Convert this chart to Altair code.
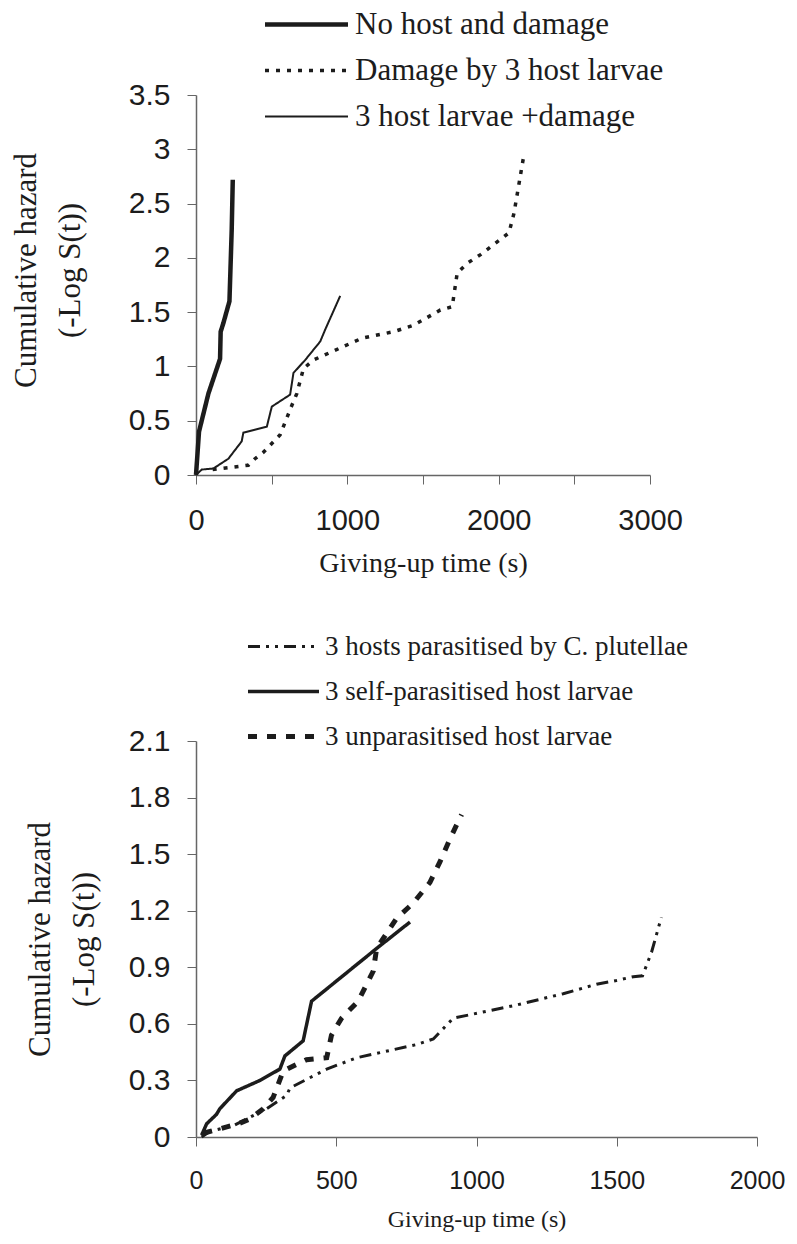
import altair as alt
import pandas as pd

# ---------------- top panel data ----------------
top_series = ["No host and damage", "Damage by 3 host larvae", "3 host larvae +damage"]

nohost_t = [0, 20, 82, 159, 163, 181, 221, 236, 243]
nohost_h = [0, 0.40, 0.75, 1.07, 1.32, 1.40, 1.60, 2.26, 2.72]

damage_t = [110, 346, 390, 446, 556, 633, 666, 710, 777, 953, 1097, 1306, 1439, 1615, 1693, 1726, 1792, 1880, 2068, 2101, 2167]
damage_h = [0.05, 0.09, 0.15, 0.21, 0.37, 0.64, 0.75, 0.98, 1.06, 1.17, 1.26, 1.32, 1.38, 1.52, 1.55, 1.86, 1.95, 2.03, 2.23, 2.41, 2.95]

hostdam_t = [0, 15, 38, 115, 214, 302, 313, 468, 501, 622, 644, 722, 821, 854, 953]
hostdam_h = [0, 0.02, 0.05, 0.06, 0.15, 0.31, 0.39, 0.445, 0.63, 0.74, 0.94, 1.06, 1.23, 1.34, 1.65]

# ---------------- bottom panel data ----------------
bot_series = ["3 hosts parasitised by C. plutellae", "3 self-parasitised host larvae", "3 unparasitised host larvae"]

cplut_t = [20, 50, 133, 252, 323, 335, 466, 572, 786, 846, 917, 1143, 1309, 1428, 1499, 1559, 1592, 1624, 1659]
cplut_h = [0.0, 0.03, 0.06, 0.15, 0.22, 0.26, 0.36, 0.42, 0.49, 0.52, 0.63, 0.70, 0.76, 0.81, 0.83, 0.85, 0.855, 0.98, 1.165]

selfp_t = [20, 38, 73, 85, 145, 228, 299, 317, 382, 412, 644, 763]
selfp_h = [0.01, 0.07, 0.12, 0.15, 0.245, 0.30, 0.36, 0.43, 0.51, 0.72, 1.00, 1.14]

unpar_t = [26, 151, 192, 240, 275, 311, 394, 466, 483, 519, 578, 632, 644, 715, 774, 834, 870, 905, 947]
unpar_h = [0.02, 0.07, 0.095, 0.15, 0.21, 0.35, 0.41, 0.42, 0.54, 0.63, 0.72, 0.88, 1.00, 1.16, 1.24, 1.35, 1.46, 1.58, 1.71]

top_x_ticks = [0, 500, 1000, 1500, 2000, 2500, 3000]
top_y_ticks = [0, 0.5, 1, 1.5, 2, 2.5, 3, 3.5]
bot_x_ticks = [0, 500, 1000, 1500, 2000]
bot_y_ticks = [0, 0.3, 0.6, 0.9, 1.2, 1.5, 1.8, 2.1]


def frame(name, ts, hs):
    return pd.DataFrame({"series": name, "t": ts, "h": hs, "idx": list(range(len(ts)))})


top_df = pd.concat([
    frame(top_series[0], nohost_t, nohost_h),
    frame(top_series[1], damage_t, damage_h),
    frame(top_series[2], hostdam_t, hostdam_h),
])
bot_df = pd.concat([
    frame(bot_series[0], cplut_t, cplut_h),
    frame(bot_series[1], selfp_t, selfp_h),
    frame(bot_series[2], unpar_t, unpar_h),
])

INK = "#1c1c1c"
SERIF = "Liberation Serif"
SANS = "Liberation Sans"
SYM = 20


def legend(x, y, length, fs, offset, rowpad):
    half = length / SYM
    return alt.Legend(
        orient="none", legendX=x, legendY=y, title=None,
        labelFont=SERIF, labelFontSize=fs, labelColor=INK, labelLimit=600,
        symbolType=f"M-{half:.3f},0H{half:.3f}", symbolSize=SYM * SYM, symbolStrokeColor=INK,
        symbolFillColor="transparent",
        labelOffset=offset, rowPadding=rowpad, padding=0,
    )


def panel(df, series, dashes, widths, xdom, xticks, ydom, yticks, lg,
          w, h, label_expr, xlab, xtitle, ytitle_y, ytitle_pad):
    yaxis_kw = dict(values=yticks, format="~g", labelFontSize=30, titlePadding=ytitle_pad,
                    title=["Cumulative hazard", "(-Log S(t))"])
    if ytitle_y is not None:
        yaxis_kw["titleY"] = ytitle_y
    return alt.Chart(df).mark_line(color=INK).encode(
        x=alt.X("t:Q", scale=alt.Scale(domain=xdom, nice=False),
                axis=alt.Axis(values=xticks, labelExpr=label_expr, format="d",
                              labelFontSize=xlab, title="Giving-up time (s)",
                              titleFontSize=xtitle)),
        y=alt.Y("h:Q", scale=alt.Scale(domain=ydom, nice=False), axis=alt.Axis(**yaxis_kw)),
        strokeDash=alt.StrokeDash("series:N", scale=alt.Scale(type="ordinal", domain=series, range=dashes),
                                  legend=lg),
        strokeWidth=alt.StrokeWidth("series:N", scale=alt.Scale(type="ordinal", domain=series, range=widths),
                                    legend=lg),
        order="idx:Q",
    ).properties(width=w, height=h)


top = panel(top_df, top_series, [[1, 0], [4, 7], [1, 0]], [4.5, 3.5, 2],
            [0, 3000], top_x_ticks, [0, 3.5], top_y_ticks,
            legend(95, -86, 83, 31, 33, 14), 454, 380,
            "datum.value % 1000 == 0 ? datum.label : ''", 29, 28, 175, 42)
bot = panel(bot_df, bot_series, [[12, 6, 3, 6, 3, 6], [1, 0], [9, 10]], [3, 3.5, 5],
            [0, 2000], bot_x_ticks, [0, 2.1], bot_y_ticks,
            legend(74, -108, 71, 27, 28, 17), 561, 396,
            "datum.label", 25, 24, None, 28)

chart = alt.vconcat(top, bot, spacing=56).resolve_scale(
    strokeDash="independent", strokeWidth="independent"
).resolve_legend(strokeDash="independent", strokeWidth="independent").configure(
    background="white"
).configure_axis(
    grid=False, domainColor="#666", domainWidth=1.5, tickColor="#666", tickSize=9,
    labelFont=SANS, labelColor=INK, labelPadding=17, labelFlush=False,
    titleFont=SERIF, titleFontSize=31, titleFontWeight="normal", titleColor=INK,
    titleLineHeight=44, titlePadding=14,
).configure_axisX(labelPadding=22).configure_view(
    stroke=None
).properties(
    padding={"left": 10, "top": 9, "right": 10, "bottom": 5}
)

chart.save("out.html", embed_options={"renderer": "svg", "actions": False})
